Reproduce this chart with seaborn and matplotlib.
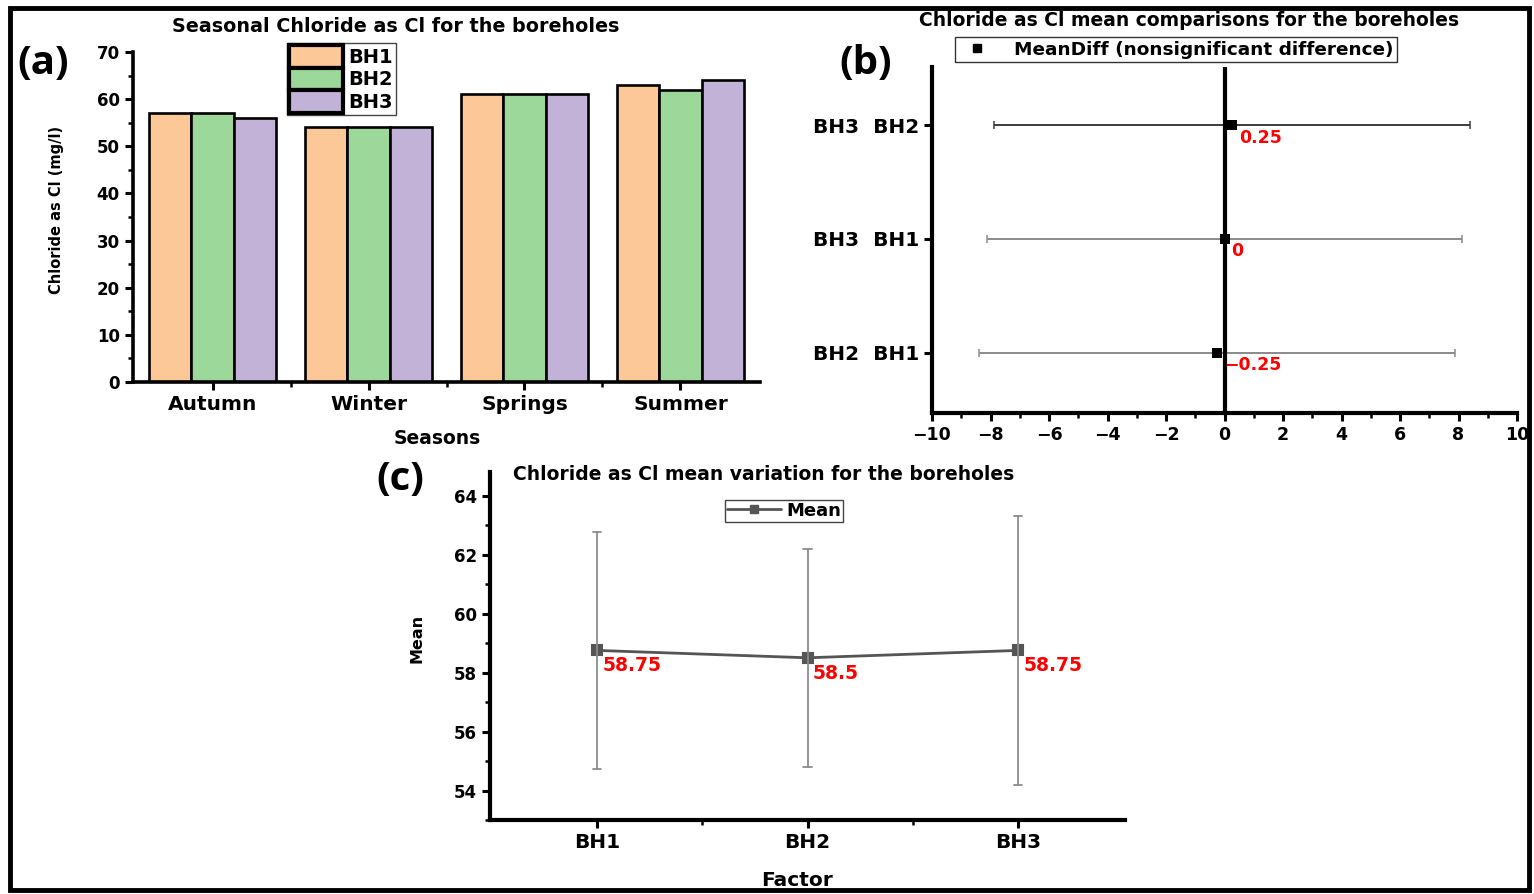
import numpy as np
import pandas as pd
import matplotlib
matplotlib.use("Agg")
import matplotlib.pyplot as plt
import seaborn as sns
from matplotlib.patches import Patch, Rectangle
from matplotlib.lines import Line2D
from matplotlib.ticker import MultipleLocator, FixedLocator

# ---- data -------------------------------------------------------------
seasons = ["Autumn", "Winter", "Springs", "Summer"]
boreholes = ["BH1", "BH2", "BH3"]
bh1_chloride = [57, 54, 61, 63]
bh2_chloride = [57, 54, 61, 62]
bh3_chloride = [56, 54, 61, 64]
bar_colors = ["#FCC898", "#9DD89B", "#C2B2D8"]

# pairwise mean comparisons (bottom to top)
pair_labels = ["BH2  BH1", "BH3  BH1", "BH3  BH2"]
pair_diff = [-0.25, 0.0, 0.25]
pair_ci_low = [-8.38, -8.13, -7.88]
pair_ci_high = [7.88, 8.13, 8.38]

df = pd.DataFrame({
    "Season": seasons * 3,
    "Borehole": np.repeat(boreholes, len(seasons)),
    "Chloride": bh1_chloride + bh2_chloride + bh3_chloride,
})

# ---- style ------------------------------------------------------------
sns.set_theme(style="ticks")
plt.rcParams["font.family"] = ["DejaVu Sans"]
plt.rcParams["axes.unicode_minus"] = True
plt.rcParams["text.color"] = "black"
plt.rcParams["axes.labelcolor"] = "black"
plt.rcParams["xtick.color"] = "black"
plt.rcParams["ytick.color"] = "black"

W, H = 1534, 894
fig = plt.figure(figsize=(W / 100, H / 100), dpi=100)
fig.patch.set_facecolor("white")


def fx(px):
    return px / W


def fy(py):
    return 1 - py / H


def style_axes(ax, spine_w):
    for s in ["top", "right"]:
        ax.spines[s].set_visible(False)
    for s in ["left", "bottom"]:
        ax.spines[s].set_linewidth(spine_w)
        ax.spines[s].set_color("black")
    ax.set_facecolor("white")
    ax.tick_params(which="major", direction="out", length=6, width=2.2,
                   color="black", labelcolor="black")
    ax.tick_params(which="minor", direction="out", length=3.5, width=1.8,
                   color="black")


panel_font = ["Open Sans", "DejaVu Sans"]

# ---- (a) seasonal bar chart ------------------------------------------
ax_a = fig.add_axes([fx(133), fy(382), fx(760) - fx(133), fy(52) - fy(382)])
sns.barplot(data=df, x="Season", y="Chloride", hue="Borehole",
            order=seasons, hue_order=boreholes, palette=bar_colors,
            width=0.81, gap=0, edgecolor="black", linewidth=1.9,
            saturation=1, errorbar=None, legend=False, ax=ax_a)
style_axes(ax_a, 2.6)
ax_a.set_xlim(-0.51, 3.51)
ax_a.set_ylim(0, 70)
ax_a.yaxis.set_major_locator(MultipleLocator(10))
ax_a.yaxis.set_minor_locator(MultipleLocator(5))
ax_a.xaxis.set_minor_locator(FixedLocator([0.5, 1.5, 2.5]))
ax_a.set_xlabel("")
ax_a.set_ylabel("")
for lab in ax_a.get_yticklabels():
    lab.set_fontsize(12)
    lab.set_fontweight("bold")
for lab in ax_a.get_xticklabels():
    lab.set_fontsize(14.5)
    lab.set_fontweight("bold")

fig.text(fx(396), fy(26), "Seasonal Chloride as Cl for the boreholes",
         ha="center", va="center", fontsize=13.8, fontweight="bold")
fig.text(fx(57), fy(210), "Chloride as Cl (mg/l)", rotation=90,
         ha="center", va="center", fontsize=10.5, fontweight="bold")
fig.text(fx(437), fy(438), "Seasons", ha="center", va="center",
         fontsize=13.5, fontweight="bold")
fig.text(fx(43), fy(64), "(a)", ha="center", va="center",
         fontsize=29, fontweight="bold", family=panel_font)

leg_a = fig.legend(
    [Patch(facecolor=c, edgecolor="black", linewidth=3) for c in bar_colors],
    boreholes, loc="upper left", bbox_to_anchor=(fx(287), fy(43)),
    bbox_transform=fig.transFigure, borderaxespad=0, frameon=True,
    fancybox=False, edgecolor="#444444", framealpha=1,
    prop={"weight": "bold", "size": 14}, handlelength=2.75, handleheight=1.4,
    labelspacing=0.0, handletextpad=0.3, borderpad=0.12)
leg_a.get_frame().set_linewidth(1.0)

# ---- (b) mean comparisons --------------------------------------------
ax_b = fig.add_axes([fx(932), fy(413), fx(1517) - fx(932), fy(67) - fy(413)])
ypos = np.arange(len(pair_labels))
bar_grey = ["#8a8a8a", "#8a8a8a", "#3c3c3c"]
for y, d, lo, hi, c in zip(ypos, pair_diff, pair_ci_low, pair_ci_high, bar_grey):
    ax_b.errorbar(d, y, xerr=[[d - lo], [hi - d]], fmt="none", ecolor=c,
                  elinewidth=1.4, capsize=3, capthick=1.1, zorder=2)
ax_b.axvline(0, color="black", linewidth=3, zorder=3)
sns.scatterplot(x=pair_diff, y=ypos, marker="s", s=55, color="black",
                edgecolor="black", linewidth=0, legend=False, zorder=4, ax=ax_b)
for y, d in zip(ypos, pair_diff):
    ax_b.annotate(f"{d:g}".replace("-", "\u2212"), (d, y),
                  xytext=(5, -9), textcoords="offset points",
                  ha="left", va="center", color="red",
                  fontsize=12.5, fontweight="bold", zorder=5)
style_axes(ax_b, 3)
ax_b.set_xlim(-10, 10)
ax_b.set_ylim(-0.53, 2.51)
ax_b.xaxis.set_major_locator(MultipleLocator(2))
ax_b.xaxis.set_minor_locator(MultipleLocator(1))
ax_b.set_yticks(ypos)
ax_b.set_yticklabels(pair_labels)
for lab in ax_b.get_yticklabels():
    lab.set_fontsize(14.5)
    lab.set_fontweight("bold")
for lab in ax_b.get_xticklabels():
    lab.set_fontsize(12.5)
    lab.set_fontweight("bold")

fig.text(fx(1189), fy(20), "Chloride as Cl mean comparisons for the boreholes",
         ha="center", va="center", fontsize=13.5, fontweight="bold")
fig.text(fx(866), fy(64), "(b)", ha="center", va="center",
         fontsize=29, fontweight="bold", family=panel_font)

leg_b = fig.legend(
    [Line2D([], [], marker="s", color="black", linestyle="none", markersize=6)],
    ["MeanDiff (nonsignificant difference)"], loc="upper left",
    bbox_to_anchor=(fx(955), fy(37)), bbox_transform=fig.transFigure,
    borderaxespad=0, frameon=True, fancybox=False, edgecolor="#333333",
    framealpha=1, prop={"weight": "bold", "size": 13.3}, handlelength=2.0,
    handletextpad=1.0, borderpad=0.2)
leg_b.get_frame().set_linewidth(1.0)

# ---- (c) mean variation ----------------------------------------------
ax_c = fig.add_axes([fx(490), fy(820), fx(1125) - fx(490), fy(472) - fy(820)])
sns.pointplot(data=df, x="Borehole", y="Chloride", order=boreholes,
              estimator="mean", errorbar="sd", color="#555555", markers="s",
              markersize=7, linewidth=2, capsize=0.04,
              err_kws={"color": "#8c8c8c", "linewidth": 1.3}, ax=ax_c)
means = df.groupby("Borehole")["Chloride"].mean().reindex(boreholes)
for i, m in enumerate(means):
    ax_c.annotate(f"{m:g}", (i, m), xytext=(4, -11), textcoords="offset points",
                  ha="left", va="center", color="red", fontsize=13.5,
                  fontweight="bold", zorder=5)
style_axes(ax_c, 3)
ax_c.set_xlim(-0.51, 2.51)
ax_c.set_ylim(53.0, 64.8)
ax_c.yaxis.set_major_locator(MultipleLocator(2))
ax_c.yaxis.set_minor_locator(MultipleLocator(1))
ax_c.xaxis.set_minor_locator(FixedLocator([0.5, 1.5]))
ax_c.set_xlabel("")
ax_c.set_ylabel("")
for lab in ax_c.get_yticklabels():
    lab.set_fontsize(12)
    lab.set_fontweight("bold")
for lab in ax_c.get_xticklabels():
    lab.set_fontsize(14.5)
    lab.set_fontweight("bold")

fig.text(fx(513), fy(475), "Chloride as Cl mean variation for the boreholes",
         ha="left", va="center", fontsize=13.5, fontweight="bold")
fig.text(fx(417), fy(638), "Mean", rotation=90, ha="center", va="center",
         fontsize=11.5, fontweight="bold")
fig.text(fx(797), fy(881), "Factor", ha="center", va="center",
         fontsize=14.5, fontweight="bold")
fig.text(fx(400), fy(479), "(c)", ha="center", va="center",
         fontsize=29, fontweight="bold", family=panel_font)

leg_c = fig.legend(
    [Line2D([], [], color="#555555", linewidth=2, marker="s", markersize=6)],
    ["Mean"], loc="upper left", bbox_to_anchor=(fx(725), fy(500)),
    bbox_transform=fig.transFigure, borderaxespad=0, frameon=True,
    fancybox=False, edgecolor="#444444", framealpha=1,
    prop={"weight": "bold", "size": 13}, handlelength=3.0,
    handletextpad=0.3, borderpad=0.1)
leg_c.get_frame().set_linewidth(1.0)

# ---- outer frame -------------------------------------------------------
fig.patches.append(Rectangle((fx(10), fy(890)), fx(1529) - fx(10),
                             fy(8) - fy(890), transform=fig.transFigure,
                             fill=False, edgecolor="black", linewidth=3.5,
                             zorder=10))

fig.savefig("out.png", dpi=100, facecolor="white")
